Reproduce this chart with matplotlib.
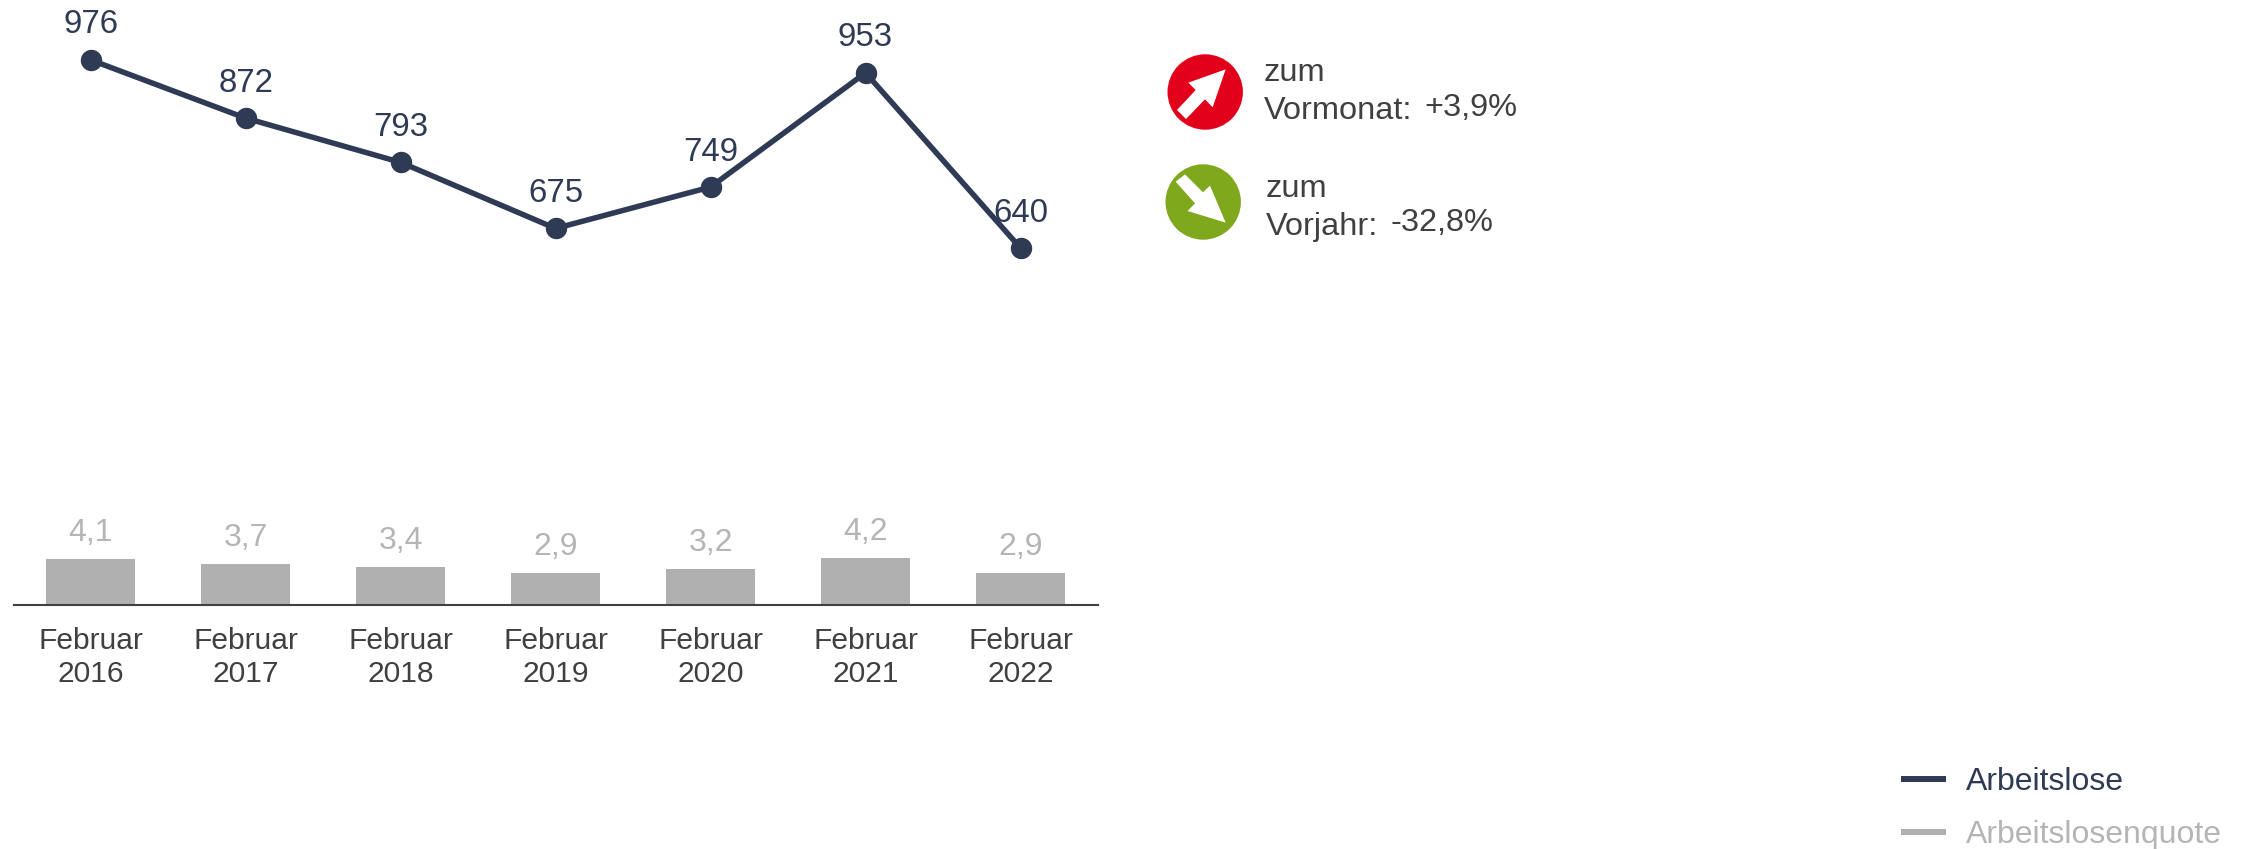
import matplotlib
matplotlib.use("Agg")
import matplotlib.pyplot as plt
from matplotlib.lines import Line2D
from matplotlib.patches import Circle, Polygon

plt.rcParams['font.family'] = ['Liberation Sans', 'DejaVu Sans']

categories = ['Februar\n2016', 'Februar\n2017', 'Februar\n2018', 'Februar\n2019',
              'Februar\n2020', 'Februar\n2021', 'Februar\n2022']
arbeitslose = [976, 872, 793, 675, 749, 953, 640]
quote = [4.1, 3.7, 3.4, 2.9, 3.2, 4.2, 2.9]
quote_labels = ['4,1', '3,7', '3,4', '2,9', '3,2', '4,2', '2,9']

NAVY = '#2f3a55'
BAR = '#b0b0b0'
BARTXT = '#b5b5b5'
TXT = '#404040'
W, H = 2247, 849
PX = 72 / 100

fig = plt.figure(figsize=(W / 100, H / 100), dpi=100, facecolor='white')
rect = [14 / W, (H - 605) / H, (1098 - 14) / W, 605 / H]

ax = fig.add_axes(rect)
xs = list(range(len(categories)))
ax.bar(xs, quote, width=0.571, color=BAR, zorder=2)
ax.set_xlim(-0.495, 6.5)
ax.set_ylim(0, 54.0)
ax.set_xticks(xs)
ax.set_xticklabels(categories, fontsize=30 * PX, color=TXT, linespacing=1.25)
ax.tick_params(axis='x', length=0, pad=15.5)
ax.set_yticks([])
for s in ['top', 'left', 'right']:
    ax.spines[s].set_visible(False)
ax.spines['bottom'].set_color('#404040')
ax.spines['bottom'].set_linewidth(1.5)
ax.patch.set_alpha(0)
for x, v, t in zip(xs, quote, quote_labels):
    ax.annotate(t, (x, v), xytext=(0, 18 * PX), textcoords='offset points',
                ha='center', va='baseline', fontsize=32 * PX, color=BARTXT)

ax2 = fig.add_axes(rect, sharex=ax)
ax2.patch.set_alpha(0)
ax2.axis('off')
ax2.set_ylim(2.5, 1083)
ax2.plot(xs, arbeitslose, color=NAVY, lw=5.5 * PX, marker='o', ms=20 * PX,
         mec=NAVY, mfc=NAVY, solid_joinstyle='round', clip_on=False, zorder=3)
for x, v in zip(xs, arbeitslose):
    ax2.annotate(str(v), (x, v), xytext=(0, 26.5 * PX), textcoords='offset points',
                 ha='center', va='baseline', fontsize=33 * PX, color=NAVY)

# overlay in pixel coordinates for the two change indicators
ov = fig.add_axes([0, 0, 1, 1])
ov.set_xlim(0, W)
ov.set_ylim(H, 0)
ov.axis('off')
ov.patch.set_alpha(0)

ov.add_patch(Circle((1205.2, 92), 37.7, fc='#e2001a', ec='none'))
ov.add_patch(Circle((1203.2, 202), 37.7, fc='#7fa81c', ec='none'))
up = [(287, 118), (175, 158), (197, 180), (141, 240), (168, 267), (225, 208), (248, 232)]
down = [(287, 578), (173, 543), (195, 520), (137, 455), (165, 433), (219, 487), (240, 467)]
ov.add_patch(Polygon([(1130 + a / 3, 30 + b / 3) for a, b in up], fc='white', ec='none'))
ov.add_patch(Polygon([(1130 + a / 3, 30 + b / 3) for a, b in down], fc='white', ec='none'))

fs = 32.5 * PX
for x, y, s in [(1264, 80.7, 'zum'), (1264, 119, 'Vormonat:'), (1424, 115.7, '+3,9%'),
                (1266, 196.7, 'zum'), (1266, 235, 'Vorjahr:'), (1390, 231, '-32,8%')]:
    ov.text(x, y, s, fontsize=fs, color=TXT, ha='left', va='baseline')

handles = [Line2D([], [], color=NAVY, lw=6 * PX), Line2D([], [], color=BAR, lw=6 * PX)]
fig.legend(handles, ['Arbeitslose', 'Arbeitslosenquote'], loc='lower right',
           bbox_to_anchor=(2222 / W, 1 - 850 / H), frameon=False, fontsize=32 * PX,
           labelcolor=[NAVY, BARTXT], handlelength=1.2, handletextpad=0.73,
           labelspacing=0.72, borderpad=0, borderaxespad=0)

fig.savefig('out.png', dpi=100, facecolor='white')
